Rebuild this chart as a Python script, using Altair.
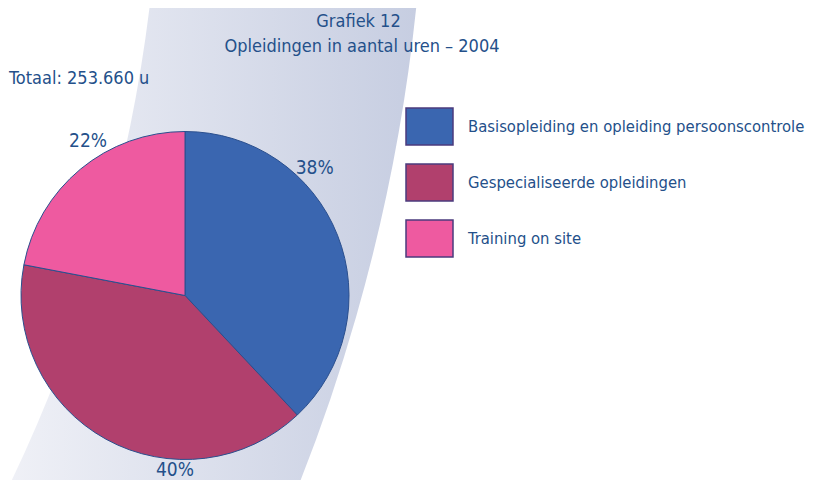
import math
import altair as alt
import pandas as pd

# ---- data ----
categories = [
    "Basisopleiding en opleiding persoonscontrole",
    "Gespecialiseerde opleidingen",
    "Training on site",
]
shares = [38, 40, 22]
pct_labels = ["38%", "40%", "22%"]
colors = ["#3A66B0", "#B1406D", "#EE5AA0"]
title_lines = ["Grafiek 12", "Opleidingen in aantal uren \u2013 2004"]
total_text = "Totaal: 253.660 u"

df = pd.DataFrame({"cat": categories, "share": shares, "label": pct_labels,
                   "idx": list(range(len(categories)))})

FONT = "DejaVu Sans Condensed, Liberation Sans Narrow, sans-serif"
TXT = "#24508a"
CX, CY, R = 177, 287.5, 164

one = alt.Data(values=[{}])

# decorative curved band in the background
swoosh = alt.Chart(one).mark_arc(
    theta=math.radians(94), theta2=math.radians(118),
    radius=1800, radius2=1535,
    fill=alt.Gradient(
        gradient="linear",
        stops=[alt.GradientStop(color="#f2f3f8", offset=0),
               alt.GradientStop(color="#c6cde1", offset=1)],
        x1=0, x2=1, y1=0, y2=0),
    clip=True,
).encode(x=alt.value(-1382), y=alt.value(-188))

pie = alt.Chart(df).mark_arc(radius=R, stroke="#2a4f8e", strokeWidth=1).encode(
    theta=alt.Theta("share:Q", stack=True),
    color=alt.Color(
        "cat:N",
        scale=alt.Scale(domain=categories, range=colors),
        legend=alt.Legend(
            title=None, orient="none", legendX=397, legendY=94,
            symbolType="M-1,-0.787H1V0.787H-1Z", symbolSize=2209,
            symbolStrokeColor="#4b3b7d", symbolStrokeWidth=1.5,
            symbolOpacity=1,
            labelFont=FONT, labelFontSize=16.5, labelColor=TXT,
            labelOffset=14, labelLimit=600, rowPadding=10, padding=0,
        ),
    ),
    order=alt.Order("idx:Q"),
    x=alt.value(CX), y=alt.value(CY),
)

# percentage labels placed a fixed angle past the start of each slice
labels = alt.Chart(df).transform_window(
    cum="sum(share)", sort=[alt.SortField("idx")]
).transform_joinaggregate(tot="sum(share)").transform_calculate(
    lab="(datum.cum - datum.share) / datum.tot * 2 * PI + 0.81"
).mark_text(radius=179, font=FONT, fontSize=19, color=TXT).encode(
    theta=alt.Theta("lab:Q", scale=None, stack=None),
    text="label:N",
    x=alt.value(CX), y=alt.value(CY - 4),
)

t1 = alt.Chart(one).mark_text(text=title_lines[0], font=FONT, fontSize=18, color=TXT,
                              align="center", baseline="middle").encode(
    x=alt.value(350.5), y=alt.value(14))
t2 = alt.Chart(one).mark_text(text=title_lines[1], font=FONT, fontSize=18, color=TXT,
                              align="center", baseline="middle").encode(
    x=alt.value(354), y=alt.value(39))
t3 = alt.Chart(one).mark_text(text=total_text, font=FONT, fontSize=18, color=TXT,
                              align="left", baseline="middle").encode(
    x=alt.value(1), y=alt.value(71))

chart = alt.layer(swoosh, pie, labels, t1, t2, t3).properties(
    width=808, height=472,
    autosize=alt.AutoSizeParams(type="none"),
    padding=0,
    background="white",
).configure_view(strokeWidth=0)

chart.save("out.html", embed_options={"renderer": "svg", "actions": False})
